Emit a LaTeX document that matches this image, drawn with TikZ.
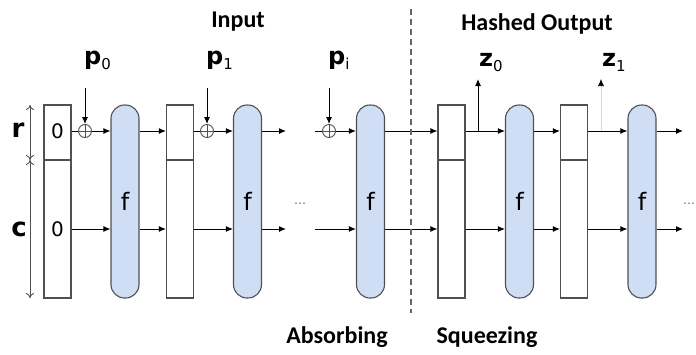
\documentclass[tikz,border=0pt]{standalone}
\usepackage{fontspec}
\setsansfont{DejaVu Sans}
\newfontfamily\headfont{Carlito}
\usetikzlibrary{arrows.meta}

\definecolor{permblue}{RGB}{207,221,245}
\definecolor{edgegray}{RGB}{80,80,80}
\newcommand{\sublabel}[2]{\textbf{#1}\raisebox{-5pt}{\fontsize{15}{15}\selectfont #2}}

\tikzset{
  perm/.style={draw=edgegray, fill=permblue, line width=1.1pt, rounded corners=13.5pt,
    minimum width=28pt, minimum height=193pt, inner sep=0pt,
    font=\sffamily\fontsize{24}{24}\selectfont},
  state/.style={draw=edgegray, line width=1.1pt, minimum width=27pt, minimum height=193pt, inner sep=0pt},
  xor/.style={circle, draw=edgegray, line width=0.9pt, minimum size=13pt, inner sep=0pt},
  flow/.style={-{Latex[length=7pt,width=6pt]}, line width=1pt},
  plain/.style={line width=1pt},
  dim/.style={{To[length=5pt,width=8pt]}-{To[length=5pt,width=8pt]}, edgegray, line width=0.9pt},
  msg/.style={inner sep=0pt, font=\sffamily\fontsize{24}{24}\selectfont},
  side/.style={inner sep=0pt, font=\sffamily\bfseries\fontsize{26}{26}\selectfont},
  zero/.style={inner sep=0pt, font=\sffamily\fontsize{20}{20}\selectfont},
  head/.style={inner sep=0pt, font=\headfont\bfseries\fontsize{24}{24}\selectfont},
  dots/.style={inner sep=0pt, text=black!60, font=\sffamily\fontsize{12}{12}\selectfont}
}

\begin{document}
\begin{tikzpicture}[x=1pt,y=-1pt]
  \useasboundingbox (0,0) rectangle (696,354);

  % rows of the state
  \coordinate (rrow) at (0,131);
  \coordinate (crow) at (0,229);
  \coordinate (mid) at (0,160);

  % state boxes and permutations
  \foreach \name/\x in {b1/57.5, b2/180, b3/451.5, b4/574}{
    \node[state] (\name) at (\x,201.5) {};
    \draw[edgegray, line width=1.1pt] (\name.west |- mid) -- (\name.east |- mid);
  }
  \foreach \name/\x in {f1/125, f2/247.5, f3/370.5, f4/519.5, f5/642}
    \node[perm] (\name) at (\x,201.5) {f};

  \node[zero] (zr) at (b1 |- rrow) {0};
  \node[zero] (zc) at (b1 |- crow) {0};

  % size of r and c
  \coordinate (dtop) at (30,105);
  \coordinate (dmid) at (30,160);
  \coordinate (dbot) at (30,298);
  \draw[dim] (dtop) -- (dmid);
  \draw[dim] (dmid) -- (dbot);
  \node[side] (rlab) at (18,130) {r};
  \node[side] (clab) at (19,229) {c};

  % xor with the input blocks
  \foreach \name/\x/\i in {x0/85/0, x1/207/1, xi/329/i}{
    \node[xor] (\name) at (\x,131) {};
    \draw[edgegray, line width=0.9pt] (\name.north) -- (\name.south) (\name.west) -- (\name.east);
    \coordinate (\name top) at (\x,88);
    \draw[flow] (\name top) -- (\name.north);
    \node[msg, anchor=base west] (p\i) at (\x-1,64) {\sublabel{p}{\i}};
  }

  % free ends
  \coordinate (gapL) at (286,0);
  \coordinate (gapR) at (315,0);
  \coordinate (tail) at (683,0);

  % rate row
  \draw[plain] (b1.east |- rrow) -- (x0.west);
  \draw[flow] (x0.east) -- (f1.west |- rrow);
  \draw[plain] (b2.east |- rrow) -- (x1.west);
  \draw[flow] (x1.east) -- (f2.west |- rrow);
  \draw[plain] (gapR |- rrow) -- (xi.west);
  \draw[flow] (xi.east) -- (f3.west |- rrow);
  \foreach \a/\b in {f1/b2, f3/b3, b3/f4, f4/b4, b4/f5}
    \draw[flow] (\a.east |- rrow) -- (\b.west |- rrow);
  \draw[flow] (f2.east |- rrow) -- (gapL |- rrow);
  \draw[flow] (f5.east |- rrow) -- (tail |- rrow);

  % capacity row
  \foreach \a/\b in {b1/f1, f1/b2, b2/f2, f3/b3, b3/f4, f4/b4, b4/f5}
    \draw[flow] (\a.east |- crow) -- (\b.west |- crow);
  \draw[flow] (f2.east |- crow) -- (gapL |- crow);
  \draw[flow] (gapR |- crow) -- (f3.west |- crow);
  \draw[flow] (f5.east |- crow) -- (tail |- crow);

  \node[dots] (dotsA) at (300,204) {\ldots};
  \node[dots] (dotsB) at (689,204) {\ldots};

  % output blocks
  \coordinate (z0foot) at (478,131);
  \coordinate (z0top) at (478,79);
  \coordinate (z1foot) at (601,131);
  \coordinate (z1top) at (601,79);
  \draw[flow] (z0foot) -- (z0top);
  \draw[-{Latex[length=7pt,width=6pt,color=black]}, line width=0.6pt, black!15] (z1foot) -- (z1top);
  \node[msg, anchor=base west] (z0) at (479,66) {\sublabel{z}{0}};
  \node[msg, anchor=base west] (z1) at (602,66) {\sublabel{z}{1}};

  % phase separator
  \coordinate (sepTop) at (411,9);
  \coordinate (sepBot) at (411,313);
  \draw[dash pattern=on 6pt off 4pt, black!60, line width=1.6pt] (sepTop) -- (sepBot);

  \node[head, anchor=base] (input) at (238,27) {Input};
  \node[head, anchor=base] (hashed) at (537,30) {Hashed Output};
  \node[head, anchor=base] (absorb) at (337,343) {Absorbing};
  \node[head, anchor=base] (squeeze) at (487,343) {Squeezing};
\end{tikzpicture}
\end{document}
